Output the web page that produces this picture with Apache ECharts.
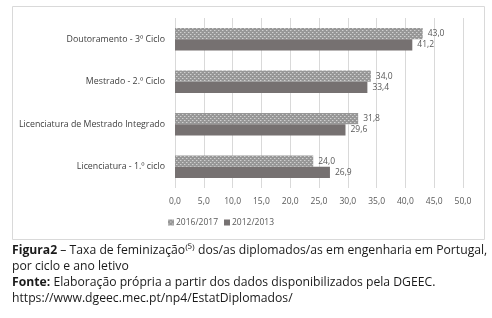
<!DOCTYPE html>
<html lang="pt">
<head>
<meta charset="UTF-8">
<title>Taxa de feminização</title>
<script src="https://cdn.jsdelivr.net/npm/echarts@6/dist/echarts.min.js"></script>
<style>
  html, body { margin: 0; padding: 0; background: #fff; }
  #main { width: 492px; height: 318px; }
</style>
</head>
<body>
<div id="main"></div>
<script>
  // ciclos, de baixo para cima
  var ciclos = ['Licenciatura - 1.º ciclo', 'Licenciatura de Mestrado Integrado', 'Mestrado - 2.º Ciclo', 'Doutoramento - 3º Ciclo'];
  var anos = ['2016/2017', '2012/2013'];
  var taxa2016 = [24.0, 31.8, 34.0, 43.0];
  var taxa2012 = [26.9, 29.6, 33.4, 41.2];

  // padrao pontilhado das barras 2016/2017
  function padrao() {
    var c = document.createElement('canvas');
    c.width = 4; c.height = 4;
    var ctx = c.getContext('2d');
    ctx.fillStyle = '#979797';
    ctx.fillRect(0, 0, 4, 4);
    ctx.fillStyle = '#d0d0d0';
    ctx.fillRect(0, 0, 1, 1);
    ctx.fillRect(2, 2, 1, 1);
    ctx.fillStyle = '#b0b0b0';
    ctx.fillRect(1, 0, 1, 1);
    ctx.fillRect(3, 2, 1, 1);
    return c;
  }

  function virgula(v) { return v.toFixed(1).replace('.', ','); }

  var myChart = echarts.init(document.getElementById('main'));
  var fonte = '"Open Sans", sans-serif';

  var option = {
    animation: false,
    grid: { left: 175, right: 29, top: 18, bottom: 130 },
    legend: {
      data: anos,
      left: 163,
      top: 213,
      icon: 'rect',
      itemWidth: 6,
      itemHeight: 6,
      itemGap: 6,
      textStyle: { fontSize: 8.5, color: '#595959', fontFamily: fonte, padding: [0, 0, 0, -3] }
    },
    xAxis: {
      type: 'value',
      min: 0, max: 50, interval: 5,
      axisLine: { show: false },
      axisTick: { show: false },
      splitLine: { lineStyle: { color: '#d9d9d9', width: 1 } },
      axisLabel: {
        fontSize: 8.5, color: '#595959', fontFamily: fonte, margin: 9,
        formatter: function (v) { return virgula(v); }
      }
    },
    yAxis: {
      type: 'category',
      data: ciclos,
      axisLine: { show: false },
      axisTick: { show: false },
      axisLabel: { fontSize: 8.8, color: '#404040', fontFamily: fonte, margin: 10 }
    },
    series: [
      {
        name: anos[0],
        type: 'bar',
        data: taxa2016,
        barWidth: 11.3,
        barGap: '0%',
        itemStyle: { color: { image: padrao(), repeat: 'repeat' } },
        label: {
          show: true, position: 'right', distance: 5,
          fontSize: 8.5, color: '#595959', fontFamily: fonte,
          formatter: function (p) { return virgula(p.value); }
        }
      },
      {
        name: anos[1],
        type: 'bar',
        data: taxa2012,
        barWidth: 11.3,
        barGap: '0%',
        itemStyle: { color: '#767171' },
        label: {
          show: true, position: 'right', distance: 5,
          fontSize: 8.5, color: '#595959', fontFamily: fonte,
          formatter: function (p) { return virgula(p.value); }
        }
      }
    ],
    graphic: [
      {
        type: 'rect',
        shape: { x: 12.5, y: 6.5, width: 472, height: 233 },
        style: { fill: 'none', stroke: '#d9d9d9', lineWidth: 1 },
        silent: true
      },
      {
        type: 'text',
        left: 12,
        top: 242.5,
        style: {
          text: '{b|Figura2} – Taxa de feminização⁽⁵⁾ dos/as diplomados/as em engenharia em Portugal,\npor ciclo e ano letivo\n{b|Fonte:} Elaboração própria a partir dos dados disponibilizados pela DGEEC.\nhttps://www.dgeec.mec.pt/np4/EstatDiplomados/',
          font: '12.2px ' + fonte,
          fill: '#1a1a1a',
          lineHeight: 16,
          rich: {
            b: { fontWeight: 'bold', fontSize: 12.2, fontFamily: fonte, fill: '#1a1a1a', lineHeight: 16 }
          }
        }
      }
    ]
  };

  myChart.setOption(option);
</script>
</body>
</html>
